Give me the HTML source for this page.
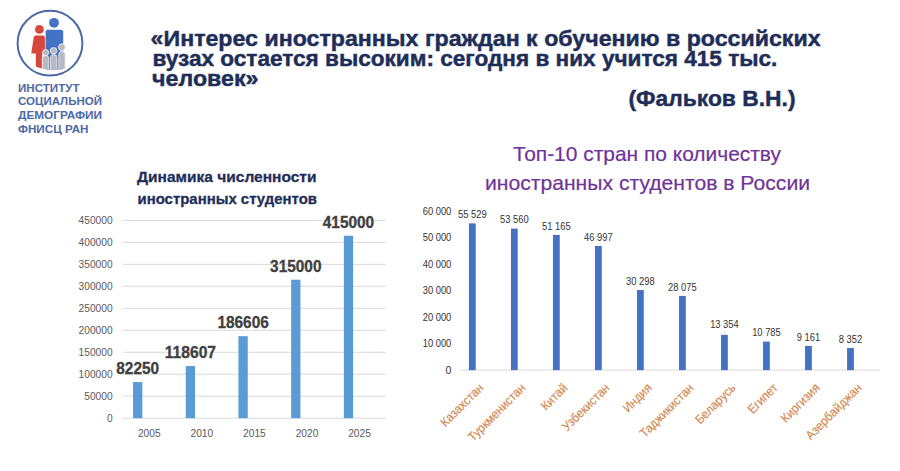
<!DOCTYPE html><html><head><meta charset="utf-8"><style>
html,body{margin:0;padding:0;background:#fff;}
body{width:900px;height:471px;overflow:hidden;position:relative;font-family:"Liberation Sans",sans-serif;}
svg{position:absolute;left:0;top:0;}
text{font-family:"Liberation Sans",sans-serif;}
</style></head><body>
<svg width="900" height="471" viewBox="0 0 900 471">

<g id="logo">
<circle cx="50" cy="43.2" r="32.4" fill="none" stroke="#4b69a6" stroke-width="2"/>
<clipPath id="lc"><circle cx="53.5" cy="27" r="43.3"/></clipPath>
<g clip-path="url(#lc)">
<circle cx="39.4" cy="29.4" r="4.4" fill="#d8473c"/>
<path d="M35.6 35.6 Q34 35.6 33.7 37.4 L31.2 53.6 L35.8 53.6 L35.8 75 L42.2 75 L42.2 53.6 L46.6 53.6 L44.9 37.4 Q44.6 35.6 43 35.6 Z" fill="#d8473c"/>
<circle cx="54" cy="22.8" r="4.9" fill="#4472c4"/>
<path d="M45.3 31.9 Q45.3 29.4 47.8 29.4 L61.0 29.4 Q63.5 29.4 63.5 31.9 L63.5 75 L45.3 75 Z" fill="#4472c4" stroke="#fff" stroke-width="0.6"/>
<g fill="#b9b9c1" stroke="#fff" stroke-width="0.7">
<rect x="42.3" y="55.4" width="6.5" height="20" rx="3"/>
<rect x="50.5" y="54.6" width="6.5" height="20" rx="3"/>
<rect x="58.8" y="51.4" width="6.4" height="22" rx="3"/>
<circle cx="45.6" cy="52.6" r="3.1"/>
<circle cx="53.6" cy="50.8" r="3.3"/>
<circle cx="61.9" cy="47.2" r="3.4"/>
</g>
</g>
</g>

<text x="18" y="91.8" font-size="10.9" font-weight="bold" fill="#4b69a6" textLength="61.5" lengthAdjust="spacingAndGlyphs">ИНСТИТУТ</text>
<text x="18" y="105.3" font-size="10.9" font-weight="bold" fill="#4b69a6" textLength="84" lengthAdjust="spacingAndGlyphs">СОЦИАЛЬНОЙ</text>
<text x="18" y="119.3" font-size="10.9" font-weight="bold" fill="#4b69a6" textLength="84" lengthAdjust="spacingAndGlyphs">ДЕМОГРАФИИ</text>
<text x="18" y="132.8" font-size="10.9" font-weight="bold" fill="#4b69a6" textLength="70.5" lengthAdjust="spacingAndGlyphs">ФНИСЦ РАН</text>
<text x="150.6" y="45.8" font-size="21.5" font-weight="bold" fill="#1f2e58" stroke="#1f2e58" stroke-width="0.45" textLength="670" lengthAdjust="spacingAndGlyphs">«Интерес иностранных граждан к обучению в российских</text>
<text x="152.4" y="65.6" font-size="21.5" font-weight="bold" fill="#1f2e58" stroke="#1f2e58" stroke-width="0.45" textLength="625" lengthAdjust="spacingAndGlyphs">вузах остается высоким: сегодня в них учится 415 тыс.</text>
<text x="152.1" y="85.5" font-size="21.5" font-weight="bold" fill="#1f2e58" stroke="#1f2e58" stroke-width="0.45" textLength="106.4" lengthAdjust="spacingAndGlyphs">человек»</text>
<text x="628.5" y="105.9" font-size="22.5" font-weight="bold" fill="#1f2e58" stroke="#1f2e58" stroke-width="0.45" textLength="167" lengthAdjust="spacingAndGlyphs">(Фальков В.Н.)</text>
<text x="137" y="182.2" font-size="15.4" font-weight="bold" fill="#1f2e58" stroke="#1f2e58" stroke-width="0.3" textLength="179.5" lengthAdjust="spacingAndGlyphs">Динамика численности</text>
<text x="137.5" y="204" font-size="15.4" font-weight="bold" fill="#1f2e58" stroke="#1f2e58" stroke-width="0.3" textLength="179.5" lengthAdjust="spacingAndGlyphs">иностранных студентов</text>
<line x1="123" y1="418.20" x2="385.8" y2="418.20" stroke="#d9d9d9" stroke-width="1"/>
<text x="112.6" y="422.00" font-size="10.2" fill="#595959" text-anchor="end">0</text>
<line x1="123" y1="396.22" x2="385.8" y2="396.22" stroke="#d9d9d9" stroke-width="1"/>
<text x="112.6" y="400.02" font-size="10.2" fill="#595959" text-anchor="end">50000</text>
<line x1="123" y1="374.24" x2="385.8" y2="374.24" stroke="#d9d9d9" stroke-width="1"/>
<text x="112.6" y="378.04" font-size="10.2" fill="#595959" text-anchor="end">100000</text>
<line x1="123" y1="352.26" x2="385.8" y2="352.26" stroke="#d9d9d9" stroke-width="1"/>
<text x="112.6" y="356.06" font-size="10.2" fill="#595959" text-anchor="end">150000</text>
<line x1="123" y1="330.28" x2="385.8" y2="330.28" stroke="#d9d9d9" stroke-width="1"/>
<text x="112.6" y="334.08" font-size="10.2" fill="#595959" text-anchor="end">200000</text>
<line x1="123" y1="308.30" x2="385.8" y2="308.30" stroke="#d9d9d9" stroke-width="1"/>
<text x="112.6" y="312.10" font-size="10.2" fill="#595959" text-anchor="end">250000</text>
<line x1="123" y1="286.32" x2="385.8" y2="286.32" stroke="#d9d9d9" stroke-width="1"/>
<text x="112.6" y="290.12" font-size="10.2" fill="#595959" text-anchor="end">300000</text>
<line x1="123" y1="264.34" x2="385.8" y2="264.34" stroke="#d9d9d9" stroke-width="1"/>
<text x="112.6" y="268.14" font-size="10.2" fill="#595959" text-anchor="end">350000</text>
<line x1="123" y1="242.36" x2="385.8" y2="242.36" stroke="#d9d9d9" stroke-width="1"/>
<text x="112.6" y="246.16" font-size="10.2" fill="#595959" text-anchor="end">400000</text>
<line x1="123" y1="220.38" x2="385.8" y2="220.38" stroke="#d9d9d9" stroke-width="1"/>
<text x="112.6" y="224.18" font-size="10.2" fill="#595959" text-anchor="end">450000</text>
<rect x="133.05" y="382.04" width="9.3" height="36.16" fill="#5b9bd5"/>
<text x="137.70" y="374.14" font-size="16.3" font-weight="bold" fill="#404040" stroke="#404040" stroke-width="0.3" text-anchor="middle" textLength="42.81" lengthAdjust="spacingAndGlyphs">82250</text>
<text x="149.30" y="437" font-size="10.2" fill="#595959" text-anchor="middle">2005</text>
<rect x="185.75" y="366.06" width="9.3" height="52.14" fill="#5b9bd5"/>
<text x="190.40" y="358.16" font-size="16.3" font-weight="bold" fill="#404040" stroke="#404040" stroke-width="0.3" text-anchor="middle" textLength="51.37" lengthAdjust="spacingAndGlyphs">118607</text>
<text x="201.86" y="437" font-size="10.2" fill="#595959" text-anchor="middle">2010</text>
<rect x="238.45" y="336.17" width="9.3" height="82.03" fill="#5b9bd5"/>
<text x="243.10" y="328.27" font-size="16.3" font-weight="bold" fill="#404040" stroke="#404040" stroke-width="0.3" text-anchor="middle" textLength="51.37" lengthAdjust="spacingAndGlyphs">186606</text>
<text x="254.42" y="437" font-size="10.2" fill="#595959" text-anchor="middle">2015</text>
<rect x="291.15" y="279.73" width="9.3" height="138.47" fill="#5b9bd5"/>
<text x="295.80" y="271.83" font-size="16.3" font-weight="bold" fill="#404040" stroke="#404040" stroke-width="0.3" text-anchor="middle" textLength="51.37" lengthAdjust="spacingAndGlyphs">315000</text>
<text x="306.98" y="437" font-size="10.2" fill="#595959" text-anchor="middle">2020</text>
<rect x="343.85" y="235.77" width="9.3" height="182.43" fill="#5b9bd5"/>
<text x="348.50" y="227.87" font-size="16.3" font-weight="bold" fill="#404040" stroke="#404040" stroke-width="0.3" text-anchor="middle" textLength="51.37" lengthAdjust="spacingAndGlyphs">415000</text>
<text x="359.54" y="437" font-size="10.2" fill="#595959" text-anchor="middle">2025</text>
<text x="647" y="160.6" font-size="21" fill="#6f3497" stroke="#6f3497" stroke-width="0.2" text-anchor="middle" textLength="268" lengthAdjust="spacingAndGlyphs">Топ-10 стран по количеству</text>
<text x="647.5" y="189.5" font-size="21" fill="#6f3497" stroke="#6f3497" stroke-width="0.2" text-anchor="middle" textLength="325" lengthAdjust="spacingAndGlyphs">иностранных студентов в России</text>
<text x="451.3" y="373.50" font-size="10.5" fill="#333" text-anchor="end">0</text>
<text x="451.3" y="347.08" font-size="10.5" fill="#333" textLength="28.58" lengthAdjust="spacingAndGlyphs" text-anchor="end">10 000</text>
<text x="451.3" y="320.66" font-size="10.5" fill="#333" textLength="28.58" lengthAdjust="spacingAndGlyphs" text-anchor="end">20 000</text>
<text x="451.3" y="294.24" font-size="10.5" fill="#333" textLength="28.58" lengthAdjust="spacingAndGlyphs" text-anchor="end">30 000</text>
<text x="451.3" y="267.82" font-size="10.5" fill="#333" textLength="28.58" lengthAdjust="spacingAndGlyphs" text-anchor="end">40 000</text>
<text x="451.3" y="241.40" font-size="10.5" fill="#333" textLength="28.58" lengthAdjust="spacingAndGlyphs" text-anchor="end">50 000</text>
<text x="451.3" y="214.98" font-size="10.5" fill="#333" textLength="28.58" lengthAdjust="spacingAndGlyphs" text-anchor="end">60 000</text>
<line x1="460.4" y1="370.1" x2="880.3" y2="370.1" stroke="#d9d9d9" stroke-width="1"/>
<rect x="468.90" y="223.39" width="6.8" height="146.71" fill="#4472c4"/>
<text x="472.30" y="218.19" font-size="10.5" fill="#333" text-anchor="middle" textLength="28.58" lengthAdjust="spacingAndGlyphs">55 529</text>
<text x="484.30" y="388.60" font-size="12.6" fill="#d4884f" stroke="#d4884f" stroke-width="0.15" text-anchor="end" textLength="54.93" lengthAdjust="spacingAndGlyphs" transform="rotate(-45 484.30 388.60)">Казахстан</text>
<rect x="510.92" y="228.59" width="6.8" height="141.51" fill="#4472c4"/>
<text x="514.32" y="223.39" font-size="10.5" fill="#333" text-anchor="middle" textLength="28.58" lengthAdjust="spacingAndGlyphs">53 560</text>
<text x="526.32" y="388.60" font-size="12.6" fill="#d4884f" stroke="#d4884f" stroke-width="0.15" text-anchor="end" textLength="75.55" lengthAdjust="spacingAndGlyphs" transform="rotate(-45 526.32 388.60)">Туркменистан</text>
<rect x="552.94" y="234.92" width="6.8" height="135.18" fill="#4472c4"/>
<text x="556.34" y="229.72" font-size="10.5" fill="#333" text-anchor="middle" textLength="28.58" lengthAdjust="spacingAndGlyphs">51 165</text>
<text x="568.34" y="388.60" font-size="12.6" fill="#d4884f" stroke="#d4884f" stroke-width="0.15" text-anchor="end" textLength="31.67" lengthAdjust="spacingAndGlyphs" transform="rotate(-45 568.34 388.60)">Китай</text>
<rect x="594.96" y="245.93" width="6.8" height="124.17" fill="#4472c4"/>
<text x="598.36" y="240.73" font-size="10.5" fill="#333" text-anchor="middle" textLength="28.58" lengthAdjust="spacingAndGlyphs">46 997</text>
<text x="610.36" y="388.60" font-size="12.6" fill="#d4884f" stroke="#d4884f" stroke-width="0.15" text-anchor="end" textLength="60.88" lengthAdjust="spacingAndGlyphs" transform="rotate(-45 610.36 388.60)">Узбекистан</text>
<rect x="636.98" y="290.05" width="6.8" height="80.05" fill="#4472c4"/>
<text x="640.38" y="284.85" font-size="10.5" fill="#333" text-anchor="middle" textLength="28.58" lengthAdjust="spacingAndGlyphs">30 298</text>
<text x="652.38" y="388.60" font-size="12.6" fill="#d4884f" stroke="#d4884f" stroke-width="0.15" text-anchor="end" textLength="34.63" lengthAdjust="spacingAndGlyphs" transform="rotate(-45 652.38 388.60)">Индия</text>
<rect x="679.00" y="295.93" width="6.8" height="74.17" fill="#4472c4"/>
<text x="682.40" y="290.73" font-size="10.5" fill="#333" text-anchor="middle" textLength="28.58" lengthAdjust="spacingAndGlyphs">28 075</text>
<text x="694.40" y="388.60" font-size="12.6" fill="#d4884f" stroke="#d4884f" stroke-width="0.15" text-anchor="end" textLength="70.12" lengthAdjust="spacingAndGlyphs" transform="rotate(-45 694.40 388.60)">Таджикистан</text>
<rect x="721.02" y="334.82" width="6.8" height="35.28" fill="#4472c4"/>
<text x="724.42" y="328.32" font-size="10.5" fill="#333" text-anchor="middle" textLength="28.58" lengthAdjust="spacingAndGlyphs">13 354</text>
<line x1="724.72" y1="331.22" x2="724.72" y2="334.82" stroke="#d0d0d0" stroke-width="0.8"/>
<text x="736.42" y="388.60" font-size="12.6" fill="#d4884f" stroke="#d4884f" stroke-width="0.15" text-anchor="end" textLength="51.27" lengthAdjust="spacingAndGlyphs" transform="rotate(-45 736.42 388.60)">Беларусь</text>
<rect x="763.04" y="341.61" width="6.8" height="28.49" fill="#4472c4"/>
<text x="766.44" y="336.41" font-size="10.5" fill="#333" text-anchor="middle" textLength="28.58" lengthAdjust="spacingAndGlyphs">10 785</text>
<text x="778.44" y="388.60" font-size="12.6" fill="#d4884f" stroke="#d4884f" stroke-width="0.15" text-anchor="end" textLength="36.49" lengthAdjust="spacingAndGlyphs" transform="rotate(-45 778.44 388.60)">Египет</text>
<rect x="805.06" y="345.90" width="6.8" height="24.20" fill="#4472c4"/>
<text x="808.46" y="340.70" font-size="10.5" fill="#333" text-anchor="middle" textLength="23.38" lengthAdjust="spacingAndGlyphs">9 161</text>
<text x="820.46" y="388.60" font-size="12.6" fill="#d4884f" stroke="#d4884f" stroke-width="0.15" text-anchor="end" textLength="48.98" lengthAdjust="spacingAndGlyphs" transform="rotate(-45 820.46 388.60)">Киргизия</text>
<rect x="847.08" y="348.03" width="6.8" height="22.07" fill="#4472c4"/>
<text x="850.48" y="342.83" font-size="10.5" fill="#333" text-anchor="middle" textLength="23.38" lengthAdjust="spacingAndGlyphs">8 352</text>
<text x="862.48" y="388.60" font-size="12.6" fill="#d4884f" stroke="#d4884f" stroke-width="0.15" text-anchor="end" textLength="73.27" lengthAdjust="spacingAndGlyphs" transform="rotate(-45 862.48 388.60)">Азербайджан</text>
</svg></body></html>
